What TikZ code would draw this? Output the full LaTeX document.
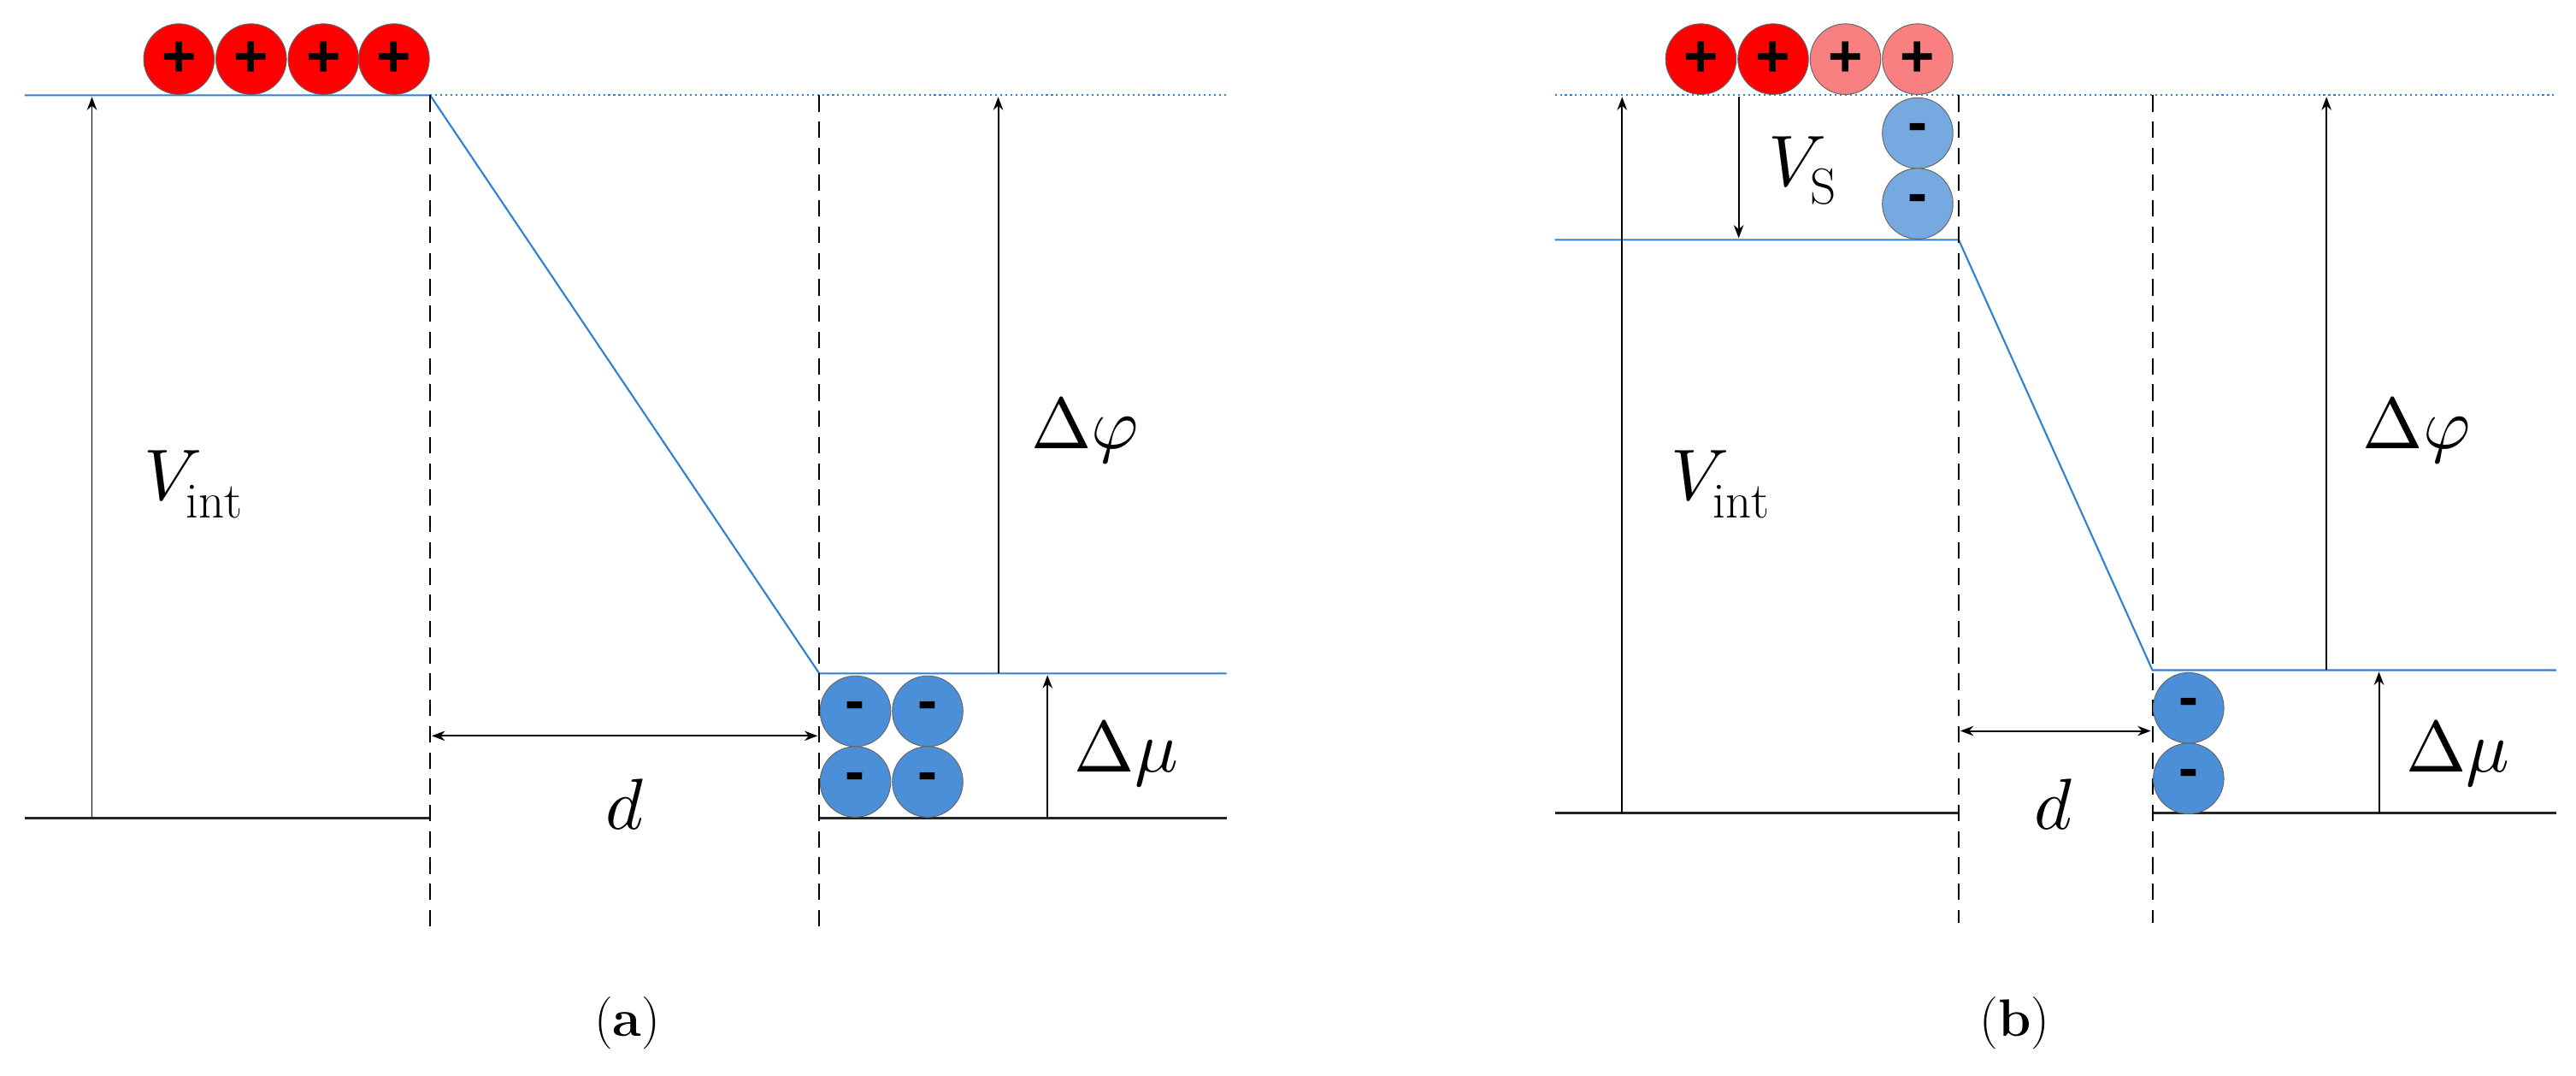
\documentclass[tikz,border=0pt]{standalone}
\usepackage{fontspec}
\usepackage{unicode-math}
\setmathfont{Latin Modern Math}
\usetikzlibrary{arrows.meta}
\newfontfamily\sgn{Liberation Sans}
\definecolor{lblue}{HTML}{2F80D0}
\definecolor{cblue}{HTML}{4A8FD8}
\definecolor{cblueL}{HTML}{75A9E0}
\definecolor{cred}{HTML}{FF0000}
\definecolor{credL}{HTML}{F88080}
\tikzset{
 lev/.style={lblue,line width=1.1pt},
 levd/.style={lblue,line width=1.1pt,dotted},
 baseln/.style={black!85,line width=1.4pt},
 dashln/.style={black,line width=1.1pt,dash pattern=on 10pt off 6pt},
 arr/.style={black,line width=1pt,-{Stealth[length=8pt,width=6pt]}},
 darr/.style={black,line width=1pt,{Stealth[length=8pt,width=6pt]}-{Stealth[length=8pt,width=6pt]}},
 chg/.style={circle,draw=black!60,line width=0.5pt,inner sep=0pt,minimum size=43pt,font=\sgn\bfseries\fontsize{36}{36}\selectfont},
 pchg/.style={chg,fill=cred},
 pchgL/.style={chg,fill=credL},
 nchg/.style={chg,fill=cblue},
 nchgL/.style={chg,fill=cblueL},
 lab/.style={inner sep=0pt,font=\fontsize{44}{50}\selectfont},
 captxt/.style={inner sep=0pt,font=\fontsize{32}{38}\selectfont},
}
\begin{document}
\begin{tikzpicture}[x=1pt,y=-1pt]
\useasboundingbox (0,0) rectangle (1569,655);
% ---------- panel a
\coordinate (aL) at (15,58); \coordinate (aK) at (262,58); \coordinate (aR) at (747,58);
\coordinate (aB) at (499,410); \coordinate (aBR) at (747,410);
\coordinate (a0L) at (15,498); \coordinate (a0K) at (262,498);
\coordinate (a0B) at (499,498); \coordinate (a0R) at (747,498);
\draw[levd] (aK) -- (aR);
\draw[lev] (aL) -- (aK) -- (aB) -- (aBR);
\draw[baseln] (a0L) -- (a0K);
\draw[baseln] (a0B) -- (a0R);
\coordinate (ad1t) at (262,58); \coordinate (ad1b) at (262,566);
\coordinate (ad2t) at (499,58); \coordinate (ad2b) at (499,566);
\draw[dashln] (ad1t) -- (ad1b);
\draw[dashln] (ad2t) -- (ad2b);
\coordinate (aV0) at (56,498); \coordinate (aV1) at (56,59);
\draw[arr] (aV0) -- (aV1);
\coordinate (aP0) at (608,410); \coordinate (aP1) at (608,59);
\draw[arr] (aP0) -- (aP1);
\coordinate (aM0) at (638,498); \coordinate (aM1) at (638,411);
\draw[arr] (aM0) -- (aM1);
\coordinate (aD0) at (263,448); \coordinate (aD1) at (498,448);
\draw[darr] (aD0) -- (aD1);
\node[pchg] (ap1) at (109,36) {+};
\node[pchg] (ap2) at (153,36) {+};
\node[pchg] (ap3) at (197,36) {+};
\node[pchg] (ap4) at (240,36) {+};
\node[nchg] (an1) at (521,433) {-};
\node[nchg] (an2) at (565,433) {-};
\node[nchg] (an3) at (521,476) {-};
\node[nchg] (an4) at (565,476) {-};
\node[lab] (aVl) at (118,295) {$V_{\mathrm{int}}$};
\node[lab] (aPl) at (661,262) {$\Delta\varphi$};
\node[lab] (aMl) at (686,459) {$\Delta\mu$};
\node[lab] (aDl) at (381,490) {$d$};
\node[captxt] (acap) at (382,623) {(\textbf{a})};
% ---------- panel b
\coordinate (bL) at (947,58); \coordinate (bR) at (1557,58);
\coordinate (bSL) at (947,146); \coordinate (bK) at (1193,146);
\coordinate (bB) at (1311,408); \coordinate (bBR) at (1557,408);
\coordinate (b0L) at (947,495); \coordinate (b0K) at (1193,495);
\coordinate (b0B) at (1311,495); \coordinate (b0R) at (1557,495);
\draw[levd] (bL) -- (bR);
\draw[lev] (bSL) -- (bK) -- (bB) -- (bBR);
\draw[baseln] (b0L) -- (b0K);
\draw[baseln] (b0B) -- (b0R);
\coordinate (bd1t) at (1193,58); \coordinate (bd1b) at (1193,562);
\coordinate (bd2t) at (1311,58); \coordinate (bd2b) at (1311,562);
\draw[dashln] (bd1t) -- (bd1b);
\draw[dashln] (bd2t) -- (bd2b);
\coordinate (bV0) at (988,495); \coordinate (bV1) at (988,59);
\draw[arr] (bV0) -- (bV1);
\coordinate (bS0) at (1059,59); \coordinate (bS1) at (1059,145);
\draw[arr] (bS0) -- (bS1);
\coordinate (bP0) at (1417,408); \coordinate (bP1) at (1417,59);
\draw[arr] (bP0) -- (bP1);
\coordinate (bM0) at (1449,495); \coordinate (bM1) at (1449,409);
\draw[arr] (bM0) -- (bM1);
\coordinate (bD0) at (1194,445); \coordinate (bD1) at (1310,445);
\draw[darr] (bD0) -- (bD1);
\node[pchg] (bp1) at (1036,36) {+};
\node[pchg] (bp2) at (1080,36) {+};
\node[pchgL] (bp3) at (1124,36) {+};
\node[pchgL] (bp4) at (1168,36) {+};
\node[nchgL] (bs1) at (1168,81) {-};
\node[nchgL] (bs2) at (1168,124) {-};
\node[nchg] (bn1) at (1333,431) {-};
\node[nchg] (bn2) at (1333,474) {-};
\node[lab] (bSl) at (1098,104) {$V_{\mathrm{S}}$};
\node[lab] (bVl) at (1048,295) {$V_{\mathrm{int}}$};
\node[lab] (bPl) at (1472,262) {$\Delta\varphi$};
\node[lab] (bMl) at (1497,459) {$\Delta\mu$};
\node[lab] (bDl) at (1251,490) {$d$};
\node[captxt] (bcap) at (1227,623) {(\textbf{b})};
\end{tikzpicture}
\end{document}
